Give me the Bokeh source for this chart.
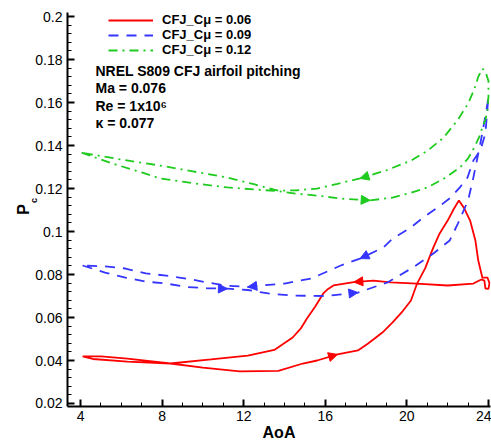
import math
from bokeh.plotting import figure
from bokeh.models import (Range1d, FixedTicker, Legend, LegendItem, Label,
                          Arrow, NormalHead)
from bokeh.embed import file_html
from bokeh.resources import INLINE

# ---------------- data ----------------
series_labels = ["CFJ_C\u03bc = 0.06", "CFJ_C\u03bc = 0.09", "CFJ_C\u03bc = 0.12"]

# Cmu = 0.06 (red)  upstroke / downstroke
red_up_aoa = [4.1, 4.6, 6.3, 8.4, 10.0, 11.8, 13.7, 14.9, 15.6, 16.6, 17.6, 18.1,
              18.8, 19.3, 19.8, 20.2, 20.5, 20.9, 21.3, 21.6, 22.0, 22.3, 22.55,
              22.8, 23.1, 23.36, 23.5, 23.7, 23.95, 24.05, 24.0, 23.85, 23.8]
red_up_pc = [0.0419, 0.0407, 0.0395, 0.0386, 0.0367, 0.0349, 0.0352, 0.0386, 0.0400,
             0.0428, 0.0447, 0.0479, 0.0530, 0.0577, 0.0630, 0.0679, 0.0758, 0.0830,
             0.0926, 0.0990, 0.1051, 0.1105, 0.1144, 0.1110, 0.1051, 0.0958, 0.0865,
             0.0786, 0.0786, 0.0760, 0.0733, 0.0735, 0.0772]
red_dn_aoa = [23.65, 23.26, 22.0, 20.5, 19.2, 18.36, 17.4, 16.4, 16.1, 15.9, 15.5,
              15.1, 14.8, 14.4, 13.5, 12.2, 10.4, 8.4, 6.3, 5.0, 4.1]
red_dn_pc = [0.0777, 0.0758, 0.0749, 0.0758, 0.0763, 0.0772, 0.0765, 0.0749, 0.0730,
             0.0712, 0.0650, 0.0595, 0.0549, 0.0507, 0.0449, 0.0423, 0.0405, 0.0386,
             0.0409, 0.0419, 0.0419]

# Cmu = 0.09 (blue)
blue_up_aoa = [4.1, 5.2, 6.2, 7.2, 8.2, 9.2, 10.2, 11.2, 12.2, 13.2, 14.4, 16.0,
               17.6, 19.05, 20.3, 21.3, 22.1, 22.5, 23.0, 23.26, 23.46, 23.6, 23.75,
               23.95, 24.0]
blue_up_pc = [0.0842, 0.0809, 0.0786, 0.0767, 0.0758, 0.0742, 0.0736, 0.0734, 0.0728,
              0.0712, 0.0702, 0.0700, 0.0716, 0.0763, 0.0833, 0.0898, 0.0958, 0.1037,
              0.1144, 0.1251, 0.1344, 0.1409, 0.1484, 0.1595, 0.1630]
blue_dn_aoa = [23.85, 23.6, 23.26, 22.97, 22.6, 22.14, 21.65, 20.8, 20.2, 19.3, 18.85,
               17.7, 16.76, 15.3, 14.0, 12.8, 12.2, 11.2, 10.2, 9.2, 8.2, 7.2, 6.2,
               5.2, 4.1]
blue_dn_pc = [0.1456, 0.1377, 0.1330, 0.1251, 0.1205, 0.1158, 0.1121, 0.1065, 0.1019,
              0.0967, 0.0926, 0.0874, 0.0842, 0.0781, 0.0758, 0.0749, 0.0742, 0.0748,
              0.0763, 0.0781, 0.0795, 0.0805, 0.0828, 0.0838, 0.0842]

# Cmu = 0.12 (green)
green_up_aoa = [4.05, 5.5, 7.0, 7.9, 9.5, 11.2, 12.5, 13.7, 14.6, 15.6, 16.9, 18.2,
                19.3, 20.2, 21.0, 21.8, 22.6, 23.0, 23.3, 23.55, 23.7, 23.85, 23.95,
                24.0, 24.0]
green_up_pc = [0.1367, 0.1318, 0.1275, 0.1247, 0.1225, 0.1205, 0.1196, 0.1188, 0.1176,
               0.1167, 0.1152, 0.1145, 0.1158, 0.1180, 0.1205, 0.1245, 0.1298, 0.1340,
               0.1390, 0.1440, 0.1484, 0.1520, 0.1563, 0.1630, 0.1700]
green_dn_aoa = [23.85, 23.7, 23.5, 23.3, 23.0, 22.5, 21.8, 21.0, 20.2, 19.0, 17.7,
                16.6, 15.6, 14.6, 13.7, 12.5, 11.2, 9.5, 7.9, 6.0, 4.05]
green_dn_pc = [0.1745, 0.1758, 0.1720, 0.1660, 0.1595, 0.1520, 0.1437, 0.1375, 0.1330,
               0.1285, 0.1247, 0.1222, 0.1200, 0.1192, 0.1190, 0.1220, 0.1251, 0.1280,
               0.1307, 0.1335, 0.1367]

x_ticks = [4, 8, 12, 16, 20, 24]
y_ticks = [0.02, 0.04, 0.06, 0.08, 0.1, 0.12, 0.14, 0.16, 0.18, 0.2]

annotation_lines = ["NREL S809 CFJ airfoil pitching", "Ma = 0.076",
                    "Re = 1x10\u2076", "\u03ba = 0.077"]

# ---------------- figure ----------------
FONT = "Liberation Sans"
p = figure(width=491, height=444, output_backend="svg", toolbar_location=None,
           x_range=Range1d(3.36, 24.1), y_range=Range1d(0.0186, 0.2019),
           min_border_left=67, min_border_right=1, min_border_top=12,
           min_border_bottom=38)
p.outline_line_color = None
p.grid.visible = False
p.background_fill_color = "white"

x_minor = [v for v in range(3, 25) if v not in x_ticks]
y_minor = [round(0.016 + 0.004 * i, 3) for i in range(48)]
y_minor = [v for v in y_minor if all(abs(v - t) > 1e-6 for t in y_ticks)]
p.xaxis.ticker = FixedTicker(ticks=x_ticks, minor_ticks=x_minor)
p.yaxis.ticker = FixedTicker(ticks=y_ticks, minor_ticks=y_minor)
p.yaxis.major_label_overrides = {t: f"{t:g}" for t in y_ticks}

for ax in (p.xaxis[0], p.yaxis[0]):
    ax.axis_line_width = 2
    ax.axis_line_color = "black"
    ax.major_tick_in = 7
    ax.major_tick_out = 0
    ax.major_tick_line_width = 2
    ax.minor_tick_in = 4
    ax.minor_tick_out = 0
    ax.minor_tick_line_width = 1
    ax.major_label_text_font = FONT
    ax.major_label_text_font_size = "14px"
    ax.major_label_text_color = "black"
    ax.axis_label_text_font = FONT
    ax.axis_label_text_font_size = "16px"
    ax.axis_label_text_font_style = "bold"
    ax.axis_label_text_color = "black"

p.xaxis.axis_label = "AoA"
p.xaxis.major_label_standoff = 4
p.xaxis.axis_label_standoff = 0
p.yaxis.axis_label = "P"
p.yaxis.major_label_standoff = 5
p.yaxis.axis_label_standoff = 0

# subscript "c" of P_c, placed in the (thin) top panel so it is not clipped
p.add_layout(Label(x=-34, y=-188, x_units="screen", y_units="screen", text="c",
                   angle=math.pi / 2, text_align="center",
                   text_baseline="alphabetic", text_font=FONT,
                   text_font_size="9px", text_font_style="bold",
                   text_color="black"), "above")

colors = ["#ff0000", "#3535ff", "#1ecb1e"]
dashes = ["solid", "10 8", "9 5 2 5"]
all_series = [
    (red_up_aoa, red_up_pc, red_dn_aoa, red_dn_pc),
    (blue_up_aoa, blue_up_pc, blue_dn_aoa, blue_dn_pc),
    (green_up_aoa, green_up_pc, green_dn_aoa, green_dn_pc),
]
renderers = []
for (ua, up, da, dp), col, dsh in zip(all_series, colors, dashes):
    r = p.line(ua + da, up + dp, line_color=col, line_width=1.8, line_dash=dsh)
    renderers.append(r)

# direction arrows (tip at point i+1 of a branch)
def add_arrow(xs, ys, i, col):
    p.add_layout(Arrow(x_start=xs[i], y_start=ys[i], x_end=xs[i + 1], y_end=ys[i + 1],
                       line_alpha=0,
                       end=NormalHead(size=9, fill_color=col, line_color=col)))

add_arrow(red_up_aoa, red_up_pc, 8, colors[0])
add_arrow(red_dn_aoa, red_dn_pc, 5, colors[0])
add_arrow(blue_up_aoa, blue_up_pc, 11, colors[1])
add_arrow(blue_up_aoa, blue_up_pc, 6, colors[1])
add_arrow(blue_dn_aoa, blue_dn_pc, 10, colors[1])
add_arrow(blue_dn_aoa, blue_dn_pc, 15, colors[1])
add_arrow(green_up_aoa, green_up_pc, 10, colors[2])
add_arrow(green_dn_aoa, green_dn_pc, 9, colors[2])

legend = Legend(items=[LegendItem(label=lab, renderers=[r])
                       for lab, r in zip(series_labels, renderers)],
                location=(41, 349), orientation="vertical")
legend.padding = 0
legend.margin = 0
legend.spacing = 0
legend.glyph_width = 45
legend.glyph_height = 14
legend.label_height = 14
legend.label_standoff = 9
legend.label_text_font = FONT
legend.label_text_font_size = "13px"
legend.label_text_font_style = "bold"
legend.label_text_color = "black"
legend.border_line_color = None
legend.background_fill_alpha = 0
p.add_layout(legend)

for k, line in enumerate(annotation_lines):
    p.add_layout(Label(x=28, y=336 - 17.5 * k, x_units="screen", y_units="screen",
                       text=line, text_baseline="middle", text_font=FONT,
                       text_font_size="14px", text_font_style="bold",
                       text_color="black"))

open("out.html", "w").write(file_html(p, INLINE))
